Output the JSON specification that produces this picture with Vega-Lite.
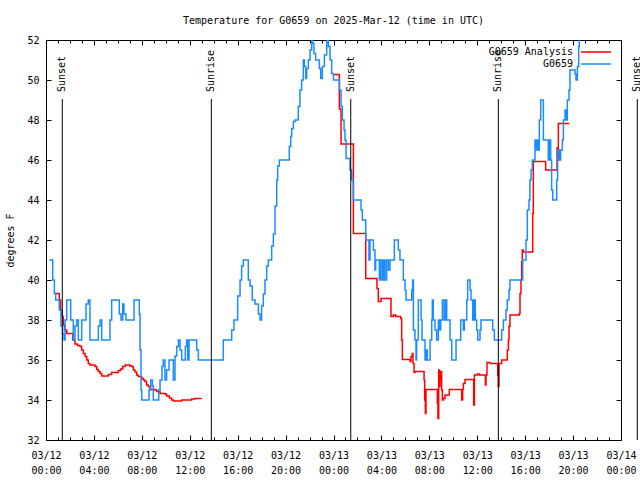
{
  "$schema": "https://vega.github.io/schema/vega-lite/v6.json",
  "width": 575,
  "height": 400,
  "autosize": {"type": "none"},
  "padding": {"left": 46, "top": 40, "right": 19, "bottom": 40},
  "background": "white",
  "title": {"text": "Temperature for G0659 on 2025-Mar-12 (time in UTC)", "font": "DejaVu Sans Mono", "fontSize": 10, "fontWeight": "normal", "anchor": "middle", "offset": 9, "color": "black"},
  "config": {
    "view": {"stroke": "black", "strokeWidth": 1},
    "axis": {"labelFont": "DejaVu Sans Mono", "labelFontSize": 10, "labelColor": "black", "tickColor": "black", "tickWidth": 1, "domain": false, "grid": false, "titleFont": "DejaVu Sans Mono", "titleFontSize": 10, "titleFontWeight": "normal", "titleColor": "black"}
  },
  "datasets": {
    "events": [
      {"hour": 1.36, "label": "Sunset"},
      {"hour": 13.80, "label": "Sunrise"},
      {"hour": 25.44, "label": "Sunset"},
      {"hour": 37.76, "label": "Sunrise"},
      {"hour": 49.36, "label": "Sunset"}
    ],
    "temps": [
      {"series": "G0659 Analysis", "seg": 1, "hour": 0.70, "temp": 39.33},
      {"series": "G0659 Analysis", "seg": 1, "hour": 1.11, "temp": 39.0},
      {"series": "G0659 Analysis", "seg": 1, "hour": 1.22, "temp": 38.5},
      {"series": "G0659 Analysis", "seg": 1, "hour": 1.34, "temp": 38.17},
      {"series": "G0659 Analysis", "seg": 1, "hour": 1.45, "temp": 37.75},
      {"series": "G0659 Analysis", "seg": 1, "hour": 1.56, "temp": 37.5},
      {"series": "G0659 Analysis", "seg": 1, "hour": 1.73, "temp": 37.33},
      {"series": "G0659 Analysis", "seg": 1, "hour": 2.23, "temp": 37.0},
      {"series": "G0659 Analysis", "seg": 1, "hour": 2.42, "temp": 36.8},
      {"series": "G0659 Analysis", "seg": 1, "hour": 2.62, "temp": 36.72},
      {"series": "G0659 Analysis", "seg": 1, "hour": 2.84, "temp": 36.67},
      {"series": "G0659 Analysis", "seg": 1, "hour": 2.98, "temp": 36.5},
      {"series": "G0659 Analysis", "seg": 1, "hour": 3.12, "temp": 36.33},
      {"series": "G0659 Analysis", "seg": 1, "hour": 3.26, "temp": 36.17},
      {"series": "G0659 Analysis", "seg": 1, "hour": 3.40, "temp": 36.0},
      {"series": "G0659 Analysis", "seg": 1, "hour": 3.53, "temp": 35.83},
      {"series": "G0659 Analysis", "seg": 1, "hour": 3.67, "temp": 35.75},
      {"series": "G0659 Analysis", "seg": 1, "hour": 4.09, "temp": 35.67},
      {"series": "G0659 Analysis", "seg": 1, "hour": 4.23, "temp": 35.53},
      {"series": "G0659 Analysis", "seg": 1, "hour": 4.37, "temp": 35.42},
      {"series": "G0659 Analysis", "seg": 1, "hour": 4.51, "temp": 35.33},
      {"series": "G0659 Analysis", "seg": 1, "hour": 4.65, "temp": 35.2},
      {"series": "G0659 Analysis", "seg": 1, "hour": 5.20, "temp": 35.28},
      {"series": "G0659 Analysis", "seg": 1, "hour": 5.48, "temp": 35.37},
      {"series": "G0659 Analysis", "seg": 1, "hour": 6.04, "temp": 35.47},
      {"series": "G0659 Analysis", "seg": 1, "hour": 6.23, "temp": 35.55},
      {"series": "G0659 Analysis", "seg": 1, "hour": 6.40, "temp": 35.67},
      {"series": "G0659 Analysis", "seg": 1, "hour": 6.60, "temp": 35.75},
      {"series": "G0659 Analysis", "seg": 1, "hour": 7.01, "temp": 35.7},
      {"series": "G0659 Analysis", "seg": 1, "hour": 7.15, "temp": 35.67},
      {"series": "G0659 Analysis", "seg": 1, "hour": 7.29, "temp": 35.5},
      {"series": "G0659 Analysis", "seg": 1, "hour": 7.43, "temp": 35.4},
      {"series": "G0659 Analysis", "seg": 1, "hour": 7.57, "temp": 35.25},
      {"series": "G0659 Analysis", "seg": 1, "hour": 7.71, "temp": 35.17},
      {"series": "G0659 Analysis", "seg": 1, "hour": 7.99, "temp": 35.08},
      {"series": "G0659 Analysis", "seg": 1, "hour": 8.13, "temp": 35.0},
      {"series": "G0659 Analysis", "seg": 1, "hour": 8.26, "temp": 34.92},
      {"series": "G0659 Analysis", "seg": 1, "hour": 8.40, "temp": 34.75},
      {"series": "G0659 Analysis", "seg": 1, "hour": 8.54, "temp": 34.67},
      {"series": "G0659 Analysis", "seg": 1, "hour": 8.68, "temp": 34.53},
      {"series": "G0659 Analysis", "seg": 1, "hour": 9.10, "temp": 34.5},
      {"series": "G0659 Analysis", "seg": 1, "hour": 9.24, "temp": 34.42},
      {"series": "G0659 Analysis", "seg": 1, "hour": 9.52, "temp": 34.33},
      {"series": "G0659 Analysis", "seg": 1, "hour": 9.93, "temp": 34.3},
      {"series": "G0659 Analysis", "seg": 1, "hour": 10.07, "temp": 34.2},
      {"series": "G0659 Analysis", "seg": 1, "hour": 10.30, "temp": 34.1},
      {"series": "G0659 Analysis", "seg": 1, "hour": 10.49, "temp": 34.0},
      {"series": "G0659 Analysis", "seg": 1, "hour": 10.63, "temp": 33.95},
      {"series": "G0659 Analysis", "seg": 1, "hour": 11.33, "temp": 34.0},
      {"series": "G0659 Analysis", "seg": 1, "hour": 12.16, "temp": 34.05},
      {"series": "G0659 Analysis", "seg": 1, "hour": 12.44, "temp": 34.08},
      {"series": "G0659 Analysis", "seg": 1, "hour": 13.00, "temp": 34.08},
      {"series": "G0659 Analysis", "seg": 2, "hour": 23.99, "temp": 50.28},
      {"series": "G0659 Analysis", "seg": 2, "hour": 24.49, "temp": 48.55},
      {"series": "G0659 Analysis", "seg": 2, "hour": 24.63, "temp": 46.8},
      {"series": "G0659 Analysis", "seg": 2, "hour": 25.66, "temp": 42.33},
      {"series": "G0659 Analysis", "seg": 2, "hour": 26.69, "temp": 40.08},
      {"series": "G0659 Analysis", "seg": 2, "hour": 27.63, "temp": 39.58},
      {"series": "G0659 Analysis", "seg": 2, "hour": 27.74, "temp": 38.92},
      {"series": "G0659 Analysis", "seg": 2, "hour": 27.97, "temp": 39.08},
      {"series": "G0659 Analysis", "seg": 2, "hour": 28.80, "temp": 38.17},
      {"series": "G0659 Analysis", "seg": 2, "hour": 29.00, "temp": 38.25},
      {"series": "G0659 Analysis", "seg": 2, "hour": 29.19, "temp": 38.17},
      {"series": "G0659 Analysis", "seg": 2, "hour": 29.61, "temp": 38.08},
      {"series": "G0659 Analysis", "seg": 2, "hour": 29.69, "temp": 37.0},
      {"series": "G0659 Analysis", "seg": 2, "hour": 29.75, "temp": 36.03},
      {"series": "G0659 Analysis", "seg": 2, "hour": 30.39, "temp": 35.92},
      {"series": "G0659 Analysis", "seg": 2, "hour": 30.47, "temp": 36.17},
      {"series": "G0659 Analysis", "seg": 2, "hour": 30.58, "temp": 36.33},
      {"series": "G0659 Analysis", "seg": 2, "hour": 30.64, "temp": 35.83},
      {"series": "G0659 Analysis", "seg": 2, "hour": 30.72, "temp": 35.37},
      {"series": "G0659 Analysis", "seg": 2, "hour": 30.80, "temp": 35.42},
      {"series": "G0659 Analysis", "seg": 2, "hour": 31.56, "temp": 35.0},
      {"series": "G0659 Analysis", "seg": 2, "hour": 31.61, "temp": 34.0},
      {"series": "G0659 Analysis", "seg": 2, "hour": 31.67, "temp": 33.33},
      {"series": "G0659 Analysis", "seg": 2, "hour": 31.72, "temp": 34.53},
      {"series": "G0659 Analysis", "seg": 2, "hour": 32.67, "temp": 33.83},
      {"series": "G0659 Analysis", "seg": 2, "hour": 32.72, "temp": 33.08},
      {"series": "G0659 Analysis", "seg": 2, "hour": 32.78, "temp": 35.5},
      {"series": "G0659 Analysis", "seg": 2, "hour": 32.84, "temp": 34.67},
      {"series": "G0659 Analysis", "seg": 2, "hour": 32.89, "temp": 35.0},
      {"series": "G0659 Analysis", "seg": 2, "hour": 32.95, "temp": 35.42},
      {"series": "G0659 Analysis", "seg": 2, "hour": 33.03, "temp": 34.5},
      {"series": "G0659 Analysis", "seg": 2, "hour": 33.09, "temp": 34.0},
      {"series": "G0659 Analysis", "seg": 2, "hour": 33.17, "temp": 34.08},
      {"series": "G0659 Analysis", "seg": 2, "hour": 33.31, "temp": 34.25},
      {"series": "G0659 Analysis", "seg": 2, "hour": 33.67, "temp": 34.53},
      {"series": "G0659 Analysis", "seg": 2, "hour": 34.70, "temp": 34.0},
      {"series": "G0659 Analysis", "seg": 2, "hour": 34.78, "temp": 34.53},
      {"series": "G0659 Analysis", "seg": 2, "hour": 34.84, "temp": 34.83},
      {"series": "G0659 Analysis", "seg": 2, "hour": 34.98, "temp": 35.03},
      {"series": "G0659 Analysis", "seg": 2, "hour": 35.70, "temp": 33.75},
      {"series": "G0659 Analysis", "seg": 2, "hour": 35.76, "temp": 35.25},
      {"series": "G0659 Analysis", "seg": 2, "hour": 36.01, "temp": 35.3},
      {"series": "G0659 Analysis", "seg": 2, "hour": 36.17, "temp": 35.25},
      {"series": "G0659 Analysis", "seg": 2, "hour": 36.68, "temp": 34.75},
      {"series": "G0659 Analysis", "seg": 2, "hour": 36.73, "temp": 35.25},
      {"series": "G0659 Analysis", "seg": 2, "hour": 36.81, "temp": 35.88},
      {"series": "G0659 Analysis", "seg": 2, "hour": 37.07, "temp": 35.83},
      {"series": "G0659 Analysis", "seg": 2, "hour": 37.71, "temp": 35.25},
      {"series": "G0659 Analysis", "seg": 2, "hour": 37.76, "temp": 34.67},
      {"series": "G0659 Analysis", "seg": 2, "hour": 37.82, "temp": 35.83},
      {"series": "G0659 Analysis", "seg": 2, "hour": 38.04, "temp": 36.0},
      {"series": "G0659 Analysis", "seg": 2, "hour": 38.51, "temp": 36.5},
      {"series": "G0659 Analysis", "seg": 2, "hour": 38.60, "temp": 37.0},
      {"series": "G0659 Analysis", "seg": 2, "hour": 38.65, "temp": 37.67},
      {"series": "G0659 Analysis", "seg": 2, "hour": 38.73, "temp": 38.25},
      {"series": "G0659 Analysis", "seg": 2, "hour": 39.51, "temp": 38.33},
      {"series": "G0659 Analysis", "seg": 2, "hour": 39.57, "temp": 39.33},
      {"series": "G0659 Analysis", "seg": 2, "hour": 39.65, "temp": 40.0},
      {"series": "G0659 Analysis", "seg": 2, "hour": 39.71, "temp": 40.92},
      {"series": "G0659 Analysis", "seg": 2, "hour": 39.76, "temp": 41.5},
      {"series": "G0659 Analysis", "seg": 2, "hour": 39.85, "temp": 41.4},
      {"series": "G0659 Analysis", "seg": 2, "hour": 40.63, "temp": 43.33},
      {"series": "G0659 Analysis", "seg": 2, "hour": 40.68, "temp": 45.92},
      {"series": "G0659 Analysis", "seg": 2, "hour": 41.71, "temp": 45.5},
      {"series": "G0659 Analysis", "seg": 2, "hour": 42.66, "temp": 46.6},
      {"series": "G0659 Analysis", "seg": 2, "hour": 42.71, "temp": 46.0},
      {"series": "G0659 Analysis", "seg": 2, "hour": 42.77, "temp": 47.83},
      {"series": "G0659 Analysis", "seg": 2, "hour": 43.69, "temp": 47.83},
      {"series": "G0659", "seg": 1, "hour": 0.28, "temp": 41.0},
      {"series": "G0659", "seg": 1, "hour": 0.56, "temp": 40.0},
      {"series": "G0659", "seg": 1, "hour": 0.70, "temp": 39.33},
      {"series": "G0659", "seg": 1, "hour": 0.81, "temp": 39.0},
      {"series": "G0659", "seg": 1, "hour": 1.11, "temp": 38.5},
      {"series": "G0659", "seg": 1, "hour": 1.25, "temp": 37.7},
      {"series": "G0659", "seg": 1, "hour": 1.39, "temp": 37.3},
      {"series": "G0659", "seg": 1, "hour": 1.50, "temp": 37.0},
      {"series": "G0659", "seg": 1, "hour": 1.59, "temp": 38.0},
      {"series": "G0659", "seg": 1, "hour": 1.73, "temp": 39.0},
      {"series": "G0659", "seg": 1, "hour": 2.06, "temp": 38.0},
      {"series": "G0659", "seg": 1, "hour": 2.28, "temp": 37.0},
      {"series": "G0659", "seg": 1, "hour": 2.42, "temp": 37.7},
      {"series": "G0659", "seg": 1, "hour": 2.56, "temp": 38.0},
      {"series": "G0659", "seg": 1, "hour": 2.70, "temp": 37.0},
      {"series": "G0659", "seg": 1, "hour": 2.98, "temp": 38.0},
      {"series": "G0659", "seg": 1, "hour": 3.34, "temp": 38.8},
      {"series": "G0659", "seg": 1, "hour": 3.53, "temp": 39.0},
      {"series": "G0659", "seg": 1, "hour": 3.67, "temp": 37.0},
      {"series": "G0659", "seg": 1, "hour": 4.37, "temp": 37.7},
      {"series": "G0659", "seg": 1, "hour": 4.51, "temp": 38.0},
      {"series": "G0659", "seg": 1, "hour": 4.65, "temp": 37.0},
      {"series": "G0659", "seg": 1, "hour": 5.34, "temp": 38.0},
      {"series": "G0659", "seg": 1, "hour": 5.48, "temp": 39.0},
      {"series": "G0659", "seg": 1, "hour": 6.12, "temp": 38.3},
      {"series": "G0659", "seg": 1, "hour": 6.26, "temp": 38.0},
      {"series": "G0659", "seg": 1, "hour": 6.40, "temp": 38.8},
      {"series": "G0659", "seg": 1, "hour": 6.51, "temp": 38.3},
      {"series": "G0659", "seg": 1, "hour": 6.68, "temp": 38.0},
      {"series": "G0659", "seg": 1, "hour": 7.35, "temp": 39.0},
      {"series": "G0659", "seg": 1, "hour": 7.79, "temp": 38.3},
      {"series": "G0659", "seg": 1, "hour": 7.85, "temp": 36.5},
      {"series": "G0659", "seg": 1, "hour": 7.93, "temp": 34.5},
      {"series": "G0659", "seg": 1, "hour": 7.99, "temp": 34.0},
      {"series": "G0659", "seg": 1, "hour": 8.60, "temp": 34.5},
      {"series": "G0659", "seg": 1, "hour": 8.74, "temp": 35.0},
      {"series": "G0659", "seg": 1, "hour": 8.88, "temp": 34.7},
      {"series": "G0659", "seg": 1, "hour": 8.96, "temp": 34.0},
      {"series": "G0659", "seg": 1, "hour": 9.41, "temp": 34.5},
      {"series": "G0659", "seg": 1, "hour": 9.52, "temp": 35.0},
      {"series": "G0659", "seg": 1, "hour": 9.68, "temp": 35.67},
      {"series": "G0659", "seg": 1, "hour": 9.79, "temp": 36.0},
      {"series": "G0659", "seg": 1, "hour": 9.93, "temp": 35.0},
      {"series": "G0659", "seg": 1, "hour": 10.07, "temp": 35.5},
      {"series": "G0659", "seg": 1, "hour": 10.27, "temp": 36.0},
      {"series": "G0659", "seg": 1, "hour": 10.63, "temp": 35.0},
      {"series": "G0659", "seg": 1, "hour": 10.77, "temp": 36.2},
      {"series": "G0659", "seg": 1, "hour": 10.91, "temp": 36.67},
      {"series": "G0659", "seg": 1, "hour": 11.05, "temp": 37.0},
      {"series": "G0659", "seg": 1, "hour": 11.19, "temp": 36.5},
      {"series": "G0659", "seg": 1, "hour": 11.33, "temp": 36.0},
      {"series": "G0659", "seg": 1, "hour": 11.63, "temp": 36.67},
      {"series": "G0659", "seg": 1, "hour": 11.74, "temp": 37.0},
      {"series": "G0659", "seg": 1, "hour": 11.83, "temp": 36.0},
      {"series": "G0659", "seg": 1, "hour": 11.94, "temp": 37.0},
      {"series": "G0659", "seg": 1, "hour": 12.58, "temp": 36.5},
      {"series": "G0659", "seg": 1, "hour": 12.72, "temp": 36.0},
      {"series": "G0659", "seg": 1, "hour": 14.80, "temp": 37.0},
      {"series": "G0659", "seg": 1, "hour": 15.50, "temp": 37.5},
      {"series": "G0659", "seg": 1, "hour": 15.69, "temp": 38.0},
      {"series": "G0659", "seg": 1, "hour": 16.00, "temp": 39.2},
      {"series": "G0659", "seg": 1, "hour": 16.20, "temp": 40.0},
      {"series": "G0659", "seg": 1, "hour": 16.33, "temp": 40.7},
      {"series": "G0659", "seg": 1, "hour": 16.47, "temp": 41.0},
      {"series": "G0659", "seg": 1, "hour": 16.89, "temp": 40.0},
      {"series": "G0659", "seg": 1, "hour": 17.03, "temp": 39.7},
      {"series": "G0659", "seg": 1, "hour": 17.22, "temp": 39.0},
      {"series": "G0659", "seg": 1, "hour": 17.45, "temp": 38.8},
      {"series": "G0659", "seg": 1, "hour": 17.73, "temp": 38.3},
      {"series": "G0659", "seg": 1, "hour": 17.86, "temp": 38.0},
      {"series": "G0659", "seg": 1, "hour": 18.00, "temp": 38.7},
      {"series": "G0659", "seg": 1, "hour": 18.14, "temp": 39.3},
      {"series": "G0659", "seg": 1, "hour": 18.28, "temp": 40.0},
      {"series": "G0659", "seg": 1, "hour": 18.42, "temp": 40.7},
      {"series": "G0659", "seg": 1, "hour": 18.56, "temp": 41.0},
      {"series": "G0659", "seg": 1, "hour": 18.84, "temp": 41.7},
      {"series": "G0659", "seg": 1, "hour": 18.98, "temp": 42.3},
      {"series": "G0659", "seg": 1, "hour": 19.12, "temp": 43.7},
      {"series": "G0659", "seg": 1, "hour": 19.26, "temp": 45.0},
      {"series": "G0659", "seg": 1, "hour": 19.34, "temp": 45.7},
      {"series": "G0659", "seg": 1, "hour": 19.48, "temp": 46.0},
      {"series": "G0659", "seg": 1, "hour": 20.31, "temp": 46.67},
      {"series": "G0659", "seg": 1, "hour": 20.43, "temp": 47.17},
      {"series": "G0659", "seg": 1, "hour": 20.51, "temp": 47.58},
      {"series": "G0659", "seg": 1, "hour": 20.65, "temp": 47.92},
      {"series": "G0659", "seg": 1, "hour": 20.79, "temp": 48.0},
      {"series": "G0659", "seg": 1, "hour": 21.06, "temp": 48.67},
      {"series": "G0659", "seg": 1, "hour": 21.20, "temp": 49.5},
      {"series": "G0659", "seg": 1, "hour": 21.34, "temp": 50.0},
      {"series": "G0659", "seg": 1, "hour": 21.48, "temp": 51.0},
      {"series": "G0659", "seg": 1, "hour": 21.57, "temp": 50.67},
      {"series": "G0659", "seg": 1, "hour": 21.68, "temp": 50.08},
      {"series": "G0659", "seg": 1, "hour": 21.76, "temp": 50.58},
      {"series": "G0659", "seg": 1, "hour": 21.90, "temp": 51.0},
      {"series": "G0659", "seg": 1, "hour": 22.04, "temp": 51.5},
      {"series": "G0659", "seg": 1, "hour": 22.18, "temp": 52.0},
      {"series": "G0659", "seg": 1, "hour": 22.26, "temp": 51.83},
      {"series": "G0659", "seg": 1, "hour": 22.37, "temp": 51.33},
      {"series": "G0659", "seg": 1, "hour": 22.51, "temp": 51.0},
      {"series": "G0659", "seg": 1, "hour": 22.82, "temp": 50.58},
      {"series": "G0659", "seg": 1, "hour": 22.93, "temp": 50.08},
      {"series": "G0659", "seg": 1, "hour": 23.07, "temp": 50.67},
      {"series": "G0659", "seg": 1, "hour": 23.24, "temp": 51.25},
      {"series": "G0659", "seg": 1, "hour": 23.43, "temp": 52.0},
      {"series": "G0659", "seg": 1, "hour": 23.57, "temp": 51.67},
      {"series": "G0659", "seg": 1, "hour": 23.71, "temp": 51.0},
      {"series": "G0659", "seg": 1, "hour": 23.85, "temp": 50.33},
      {"series": "G0659", "seg": 1, "hour": 23.99, "temp": 50.0},
      {"series": "G0659", "seg": 1, "hour": 24.49, "temp": 49.5},
      {"series": "G0659", "seg": 1, "hour": 24.63, "temp": 48.67},
      {"series": "G0659", "seg": 1, "hour": 24.74, "temp": 48.0},
      {"series": "G0659", "seg": 1, "hour": 24.88, "temp": 47.5},
      {"series": "G0659", "seg": 1, "hour": 24.96, "temp": 47.0},
      {"series": "G0659", "seg": 1, "hour": 25.05, "temp": 46.08},
      {"series": "G0659", "seg": 1, "hour": 25.38, "temp": 45.5},
      {"series": "G0659", "seg": 1, "hour": 25.52, "temp": 45.0},
      {"series": "G0659", "seg": 1, "hour": 25.66, "temp": 44.0},
      {"series": "G0659", "seg": 1, "hour": 26.30, "temp": 43.5},
      {"series": "G0659", "seg": 1, "hour": 26.41, "temp": 43.0},
      {"series": "G0659", "seg": 1, "hour": 26.69, "temp": 42.0},
      {"series": "G0659", "seg": 1, "hour": 26.96, "temp": 41.0},
      {"series": "G0659", "seg": 1, "hour": 27.05, "temp": 42.0},
      {"series": "G0659", "seg": 1, "hour": 27.33, "temp": 41.5},
      {"series": "G0659", "seg": 1, "hour": 27.46, "temp": 40.5},
      {"series": "G0659", "seg": 1, "hour": 27.52, "temp": 41.0},
      {"series": "G0659", "seg": 1, "hour": 27.83, "temp": 40.0},
      {"series": "G0659", "seg": 1, "hour": 27.94, "temp": 41.0},
      {"series": "G0659", "seg": 1, "hour": 28.08, "temp": 40.0},
      {"series": "G0659", "seg": 1, "hour": 28.19, "temp": 41.0},
      {"series": "G0659", "seg": 1, "hour": 28.30, "temp": 40.0},
      {"series": "G0659", "seg": 1, "hour": 28.44, "temp": 41.0},
      {"series": "G0659", "seg": 1, "hour": 28.58, "temp": 40.5},
      {"series": "G0659", "seg": 1, "hour": 28.72, "temp": 41.0},
      {"series": "G0659", "seg": 1, "hour": 29.08, "temp": 42.0},
      {"series": "G0659", "seg": 1, "hour": 29.41, "temp": 41.5},
      {"series": "G0659", "seg": 1, "hour": 29.55, "temp": 41.0},
      {"series": "G0659", "seg": 1, "hour": 29.83, "temp": 40.0},
      {"series": "G0659", "seg": 1, "hour": 29.97, "temp": 39.5},
      {"series": "G0659", "seg": 1, "hour": 30.05, "temp": 39.0},
      {"series": "G0659", "seg": 1, "hour": 30.53, "temp": 39.5},
      {"series": "G0659", "seg": 1, "hour": 30.61, "temp": 40.0},
      {"series": "G0659", "seg": 1, "hour": 30.67, "temp": 37.5},
      {"series": "G0659", "seg": 1, "hour": 30.80, "temp": 37.0},
      {"series": "G0659", "seg": 1, "hour": 30.89, "temp": 36.0},
      {"series": "G0659", "seg": 1, "hour": 30.94, "temp": 37.0},
      {"series": "G0659", "seg": 1, "hour": 31.08, "temp": 39.0},
      {"series": "G0659", "seg": 1, "hour": 31.31, "temp": 38.0},
      {"series": "G0659", "seg": 1, "hour": 31.39, "temp": 37.0},
      {"series": "G0659", "seg": 1, "hour": 31.64, "temp": 36.0},
      {"series": "G0659", "seg": 1, "hour": 31.72, "temp": 36.5},
      {"series": "G0659", "seg": 1, "hour": 31.83, "temp": 36.0},
      {"series": "G0659", "seg": 1, "hour": 32.06, "temp": 37.0},
      {"series": "G0659", "seg": 1, "hour": 32.20, "temp": 38.0},
      {"series": "G0659", "seg": 1, "hour": 32.25, "temp": 39.0},
      {"series": "G0659", "seg": 1, "hour": 32.33, "temp": 38.0},
      {"series": "G0659", "seg": 1, "hour": 32.47, "temp": 37.5},
      {"series": "G0659", "seg": 1, "hour": 32.61, "temp": 37.0},
      {"series": "G0659", "seg": 1, "hour": 32.75, "temp": 38.0},
      {"series": "G0659", "seg": 1, "hour": 32.84, "temp": 37.5},
      {"series": "G0659", "seg": 1, "hour": 32.95, "temp": 38.0},
      {"series": "G0659", "seg": 1, "hour": 33.09, "temp": 39.0},
      {"series": "G0659", "seg": 1, "hour": 33.23, "temp": 38.0},
      {"series": "G0659", "seg": 1, "hour": 33.36, "temp": 39.0},
      {"series": "G0659", "seg": 1, "hour": 33.45, "temp": 38.0},
      {"series": "G0659", "seg": 1, "hour": 33.73, "temp": 37.0},
      {"series": "G0659", "seg": 1, "hour": 33.87, "temp": 36.0},
      {"series": "G0659", "seg": 1, "hour": 34.23, "temp": 37.0},
      {"series": "G0659", "seg": 1, "hour": 34.62, "temp": 38.0},
      {"series": "G0659", "seg": 1, "hour": 34.84, "temp": 37.5},
      {"series": "G0659", "seg": 1, "hour": 34.92, "temp": 38.0},
      {"series": "G0659", "seg": 1, "hour": 35.12, "temp": 39.0},
      {"series": "G0659", "seg": 1, "hour": 35.20, "temp": 40.0},
      {"series": "G0659", "seg": 1, "hour": 35.40, "temp": 39.5},
      {"series": "G0659", "seg": 1, "hour": 35.48, "temp": 39.0},
      {"series": "G0659", "seg": 1, "hour": 35.62, "temp": 38.0},
      {"series": "G0659", "seg": 1, "hour": 35.73, "temp": 39.0},
      {"series": "G0659", "seg": 1, "hour": 35.84, "temp": 38.0},
      {"series": "G0659", "seg": 1, "hour": 35.95, "temp": 37.5},
      {"series": "G0659", "seg": 1, "hour": 36.04, "temp": 37.0},
      {"series": "G0659", "seg": 1, "hour": 36.23, "temp": 37.5},
      {"series": "G0659", "seg": 1, "hour": 36.31, "temp": 38.0},
      {"series": "G0659", "seg": 1, "hour": 37.29, "temp": 37.5},
      {"series": "G0659", "seg": 1, "hour": 37.43, "temp": 37.0},
      {"series": "G0659", "seg": 1, "hour": 38.04, "temp": 37.5},
      {"series": "G0659", "seg": 1, "hour": 38.18, "temp": 38.0},
      {"series": "G0659", "seg": 1, "hour": 38.40, "temp": 38.5},
      {"series": "G0659", "seg": 1, "hour": 38.51, "temp": 39.0},
      {"series": "G0659", "seg": 1, "hour": 38.65, "temp": 39.5},
      {"series": "G0659", "seg": 1, "hour": 38.73, "temp": 40.0},
      {"series": "G0659", "seg": 1, "hour": 39.79, "temp": 41.0},
      {"series": "G0659", "seg": 1, "hour": 40.07, "temp": 42.0},
      {"series": "G0659", "seg": 1, "hour": 40.18, "temp": 43.5},
      {"series": "G0659", "seg": 1, "hour": 40.32, "temp": 44.0},
      {"series": "G0659", "seg": 1, "hour": 40.40, "temp": 45.0},
      {"series": "G0659", "seg": 1, "hour": 40.49, "temp": 45.5},
      {"series": "G0659", "seg": 1, "hour": 40.60, "temp": 46.0},
      {"series": "G0659", "seg": 1, "hour": 40.82, "temp": 47.0},
      {"series": "G0659", "seg": 1, "hour": 40.90, "temp": 46.5},
      {"series": "G0659", "seg": 1, "hour": 41.02, "temp": 47.0},
      {"series": "G0659", "seg": 1, "hour": 41.10, "temp": 46.5},
      {"series": "G0659", "seg": 1, "hour": 41.18, "temp": 48.0},
      {"series": "G0659", "seg": 1, "hour": 41.30, "temp": 49.0},
      {"series": "G0659", "seg": 1, "hour": 41.52, "temp": 47.0},
      {"series": "G0659", "seg": 1, "hour": 41.93, "temp": 46.0},
      {"series": "G0659", "seg": 1, "hour": 42.02, "temp": 47.0},
      {"series": "G0659", "seg": 1, "hour": 42.13, "temp": 46.0},
      {"series": "G0659", "seg": 1, "hour": 42.21, "temp": 44.5},
      {"series": "G0659", "seg": 1, "hour": 42.30, "temp": 44.0},
      {"series": "G0659", "seg": 1, "hour": 42.63, "temp": 45.0},
      {"series": "G0659", "seg": 1, "hour": 42.71, "temp": 46.5},
      {"series": "G0659", "seg": 1, "hour": 42.85, "temp": 46.0},
      {"series": "G0659", "seg": 1, "hour": 42.96, "temp": 46.5},
      {"series": "G0659", "seg": 1, "hour": 43.10, "temp": 47.0},
      {"series": "G0659", "seg": 1, "hour": 43.19, "temp": 48.0},
      {"series": "G0659", "seg": 1, "hour": 43.33, "temp": 48.5},
      {"series": "G0659", "seg": 1, "hour": 43.41, "temp": 48.0},
      {"series": "G0659", "seg": 1, "hour": 43.52, "temp": 49.0},
      {"series": "G0659", "seg": 1, "hour": 43.66, "temp": 49.5},
      {"series": "G0659", "seg": 1, "hour": 43.74, "temp": 50.5},
      {"series": "G0659", "seg": 1, "hour": 44.16, "temp": 50.3},
      {"series": "G0659", "seg": 1, "hour": 44.24, "temp": 50.0},
      {"series": "G0659", "seg": 1, "hour": 44.36, "temp": 50.67},
      {"series": "G0659", "seg": 1, "hour": 44.47, "temp": 51.67},
      {"series": "G0659", "seg": 1, "hour": 44.52, "temp": 52.5},
      {"series": "G0659", "seg": 1, "hour": 44.58, "temp": 53.5},
      {"series": "G0659", "seg": 1, "hour": 44.75, "temp": 54.0}
    ]
  },
  "layer": [
    {
      "data": {"name": "temps"},
      "mark": {"type": "line", "interpolate": "step-after", "strokeWidth": 1.5, "clip": true},
      "encoding": {
        "x": {"field": "hour", "type": "quantitative", "scale": {"domain": [0, 48], "nice": false, "zero": false},
          "axis": {"orient": "bottom", "values": [0, 4, 8, 12, 16, 20, 24, 28, 32, 36, 40, 44, 48], "tickSize": -5, "labelPadding": 15, "labelBaseline": "top", "labelLineHeight": 15, "labelFlush": false, "labelOverlap": false, "title": null,
            "labelExpr": "[datum.value < 24 ? '03/12' : (datum.value < 48 ? '03/13' : '03/14'), (datum.value % 24 < 10 ? '0' : '') + (datum.value % 24) + ':00']"}},
        "y": {"field": "temp", "type": "quantitative", "scale": {"domain": [32, 52], "nice": false, "zero": false},
          "axis": {"orient": "left", "values": [32, 34, 36, 38, 40, 42, 44, 46, 48, 50, 52], "tickSize": -5, "labelPadding": 12, "title": "degrees F", "titleX": -36, "titleY": 200, "titleAngle": 270, "titleAlign": "center", "titleBaseline": "middle"}},
        "color": {"field": "series", "type": "nominal",
          "scale": {"domain": ["G0659 Analysis", "G0659"], "range": ["#ff0000", "#1a8cff"]},
          "legend": {"title": null, "orient": "none", "legendX": 544, "legendY": 6, "direction": "vertical", "padding": 0, "symbolType": "M-3,0H3", "symbolSize": 100, "symbolStrokeWidth": 1.5, "labelAlign": "right", "labelOffset": -29, "labelFont": "DejaVu Sans Mono", "labelFontSize": 10, "labelColor": "black", "rowPadding": 1}},
        "detail": {"field": "seg", "type": "nominal"}
      }
    },
    {
      "data": {"name": "events"},
      "mark": {"type": "rule", "color": "black", "strokeWidth": 1, "clip": false},
      "encoding": {
        "x": {"field": "hour", "type": "quantitative", "axis": {"orient": "top", "values": [0, 4, 8, 12, 16, 20, 24, 28, 32, 36, 40, 44, 48], "labels": false, "tickSize": -5, "title": null}},
        "y": {"datum": 32, "axis": {"orient": "right", "values": [32, 34, 36, 38, 40, 42, 44, 46, 48, 50, 52], "labels": false, "tickSize": -5, "title": null}},
        "y2": {"datum": 49.05}
      }
    },
    {
      "data": {"name": "events"},
      "mark": {"type": "text", "angle": 270, "align": "left", "baseline": "middle", "font": "DejaVu Sans Mono", "fontSize": 10, "color": "black", "clip": false},
      "encoding": {
        "x": {"field": "hour", "type": "quantitative", "axis": {"orient": "bottom", "values": [0,1,2,3,4,5,6,7,8,9,10,11,12,13,14,15,16,17,18,19,20,21,22,23,24,25,26,27,28,29,30,31,32,33,34,35,36,37,38,39,40,41,42,43,44,45,46,47,48], "labels": false, "tickSize": -3, "title": null}},
        "y": {"datum": 49.4, "axis": null},
        "text": {"field": "label"}
      }
    },
    {
      "data": {"name": "events"},
      "mark": {"type": "point", "opacity": 0},
      "encoding": {
        "x": {"field": "hour", "type": "quantitative", "axis": {"orient": "top", "values": [0,1,2,3,4,5,6,7,8,9,10,11,12,13,14,15,16,17,18,19,20,21,22,23,24,25,26,27,28,29,30,31,32,33,34,35,36,37,38,39,40,41,42,43,44,45,46,47,48], "labels": false, "tickSize": -3, "title": null}},
        "y": {"datum": 40, "axis": null}
      }
    }
  ],
  "resolve": {"axis": {"x": "independent", "y": "independent"}}
}
